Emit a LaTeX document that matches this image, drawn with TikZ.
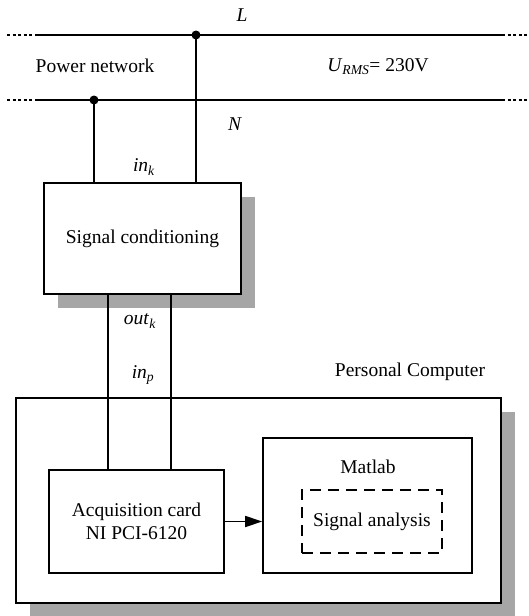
\documentclass[tikz,border=0pt]{standalone}
\usepackage{fontspec}
\setmainfont{Liberation Serif}
\newfontfamily\diagfont{Liberation Serif}
\usetikzlibrary{shadows,arrows.meta}
\definecolor{shadowgray}{RGB}{166,166,166}
\tikzset{
  every node/.style={font=\diagfont\fontsize{19.5}{23}\selectfont},
  wire/.style={line width=1.6pt},
  dotwire/.style={line width=1.6pt, dash pattern=on 3pt off 2.5pt},
  box/.style={draw, line width=1.6pt, fill=white, inner sep=0pt},
  shadowed/.style={drop shadow={opacity=1, fill=shadowgray, shadow xshift=14pt, shadow yshift=-14pt}},
  dashbox/.style={draw, line width=1.6pt, dash pattern=on 11pt off 7pt, inner sep=0pt},
  lbl/.style={inner sep=0pt},
  junction/.style={fill, circle, inner sep=0pt, minimum size=9pt}
}
\begin{document}
\begin{tikzpicture}[x=1pt,y=-1pt]
\useasboundingbox (0,0) rectangle (529,616);
% power lines
\coordinate (L0) at (7,35);
\coordinate (L1) at (37,35);
\coordinate (L2) at (502,35);
\coordinate (L3) at (529,35);
\coordinate (N0) at (7,100);
\coordinate (N1) at (37,100);
\coordinate (N2) at (502,100);
\coordinate (N3) at (529,100);
\draw[dotwire] (L0) -- (L1);
\draw[wire] (L1) -- (L2);
\draw[dotwire] (L2) -- (L3);
\draw[dotwire] (N0) -- (N1);
\draw[wire] (N1) -- (N2);
\draw[dotwire] (N2) -- (N3);
\node[lbl] (Llab) at (242,15) {\textit{L}};
\node[lbl] (Nlab) at (235,124) {\textit{N}};
\node[lbl] (pn) at (95,66) {Power network};
\node[lbl] (urms) at (378,67) {\textit{U}\textsubscript{\textit{RMS}}= 230V};
% signal conditioning
\node[box, shadowed, minimum width=197pt, minimum height=111pt] (sc) at (142.5,238.5) {Signal conditioning};
\node[junction] (dL) at (196,35) {};
\node[junction] (dN) at (94,100) {};
\draw[wire] (dL.center) -- (dL.center |- sc.north);
\draw[wire] (dN.center) -- (dN.center |- sc.north);
\node[lbl] (ink) at (144,167) {\textit{in}\textsubscript{\textit{k}}};
% personal computer
\node[box, shadowed, minimum width=485pt, minimum height=205pt] (pc) at (258.5,500.5) {};
\node[lbl] (pclab) at (410,372) {Personal Computer};
\node[box, minimum width=175pt, minimum height=103pt, align=center] (acq) at (136.5,521.5) {Acquisition card\\NI PCI-6120};
\node[box, minimum width=209pt, minimum height=135pt] (ml) at (367.5,505.5) {};
\node[lbl] (mllab) at (368,467) {Matlab};
\node[dashbox, minimum width=140pt, minimum height=63pt] (sa) at (372,521.5) {Signal analysis};
\draw[wire, -{Triangle[length=17pt,width=11pt]}] (acq.east) -- (acq.east -| ml.west);
% links between boxes
\draw[wire] (108,0 |- sc.south) -- (108,0 |- acq.north);
\draw[wire] (171,0 |- sc.south) -- (171,0 |- acq.north);
\node[lbl] (outk) at (140,321) {\textit{out}\textsubscript{\textit{k}}};
\node[lbl] (inp) at (143,375) {\textit{in}\textsubscript{\textit{p}}};
\end{tikzpicture}
\end{document}
